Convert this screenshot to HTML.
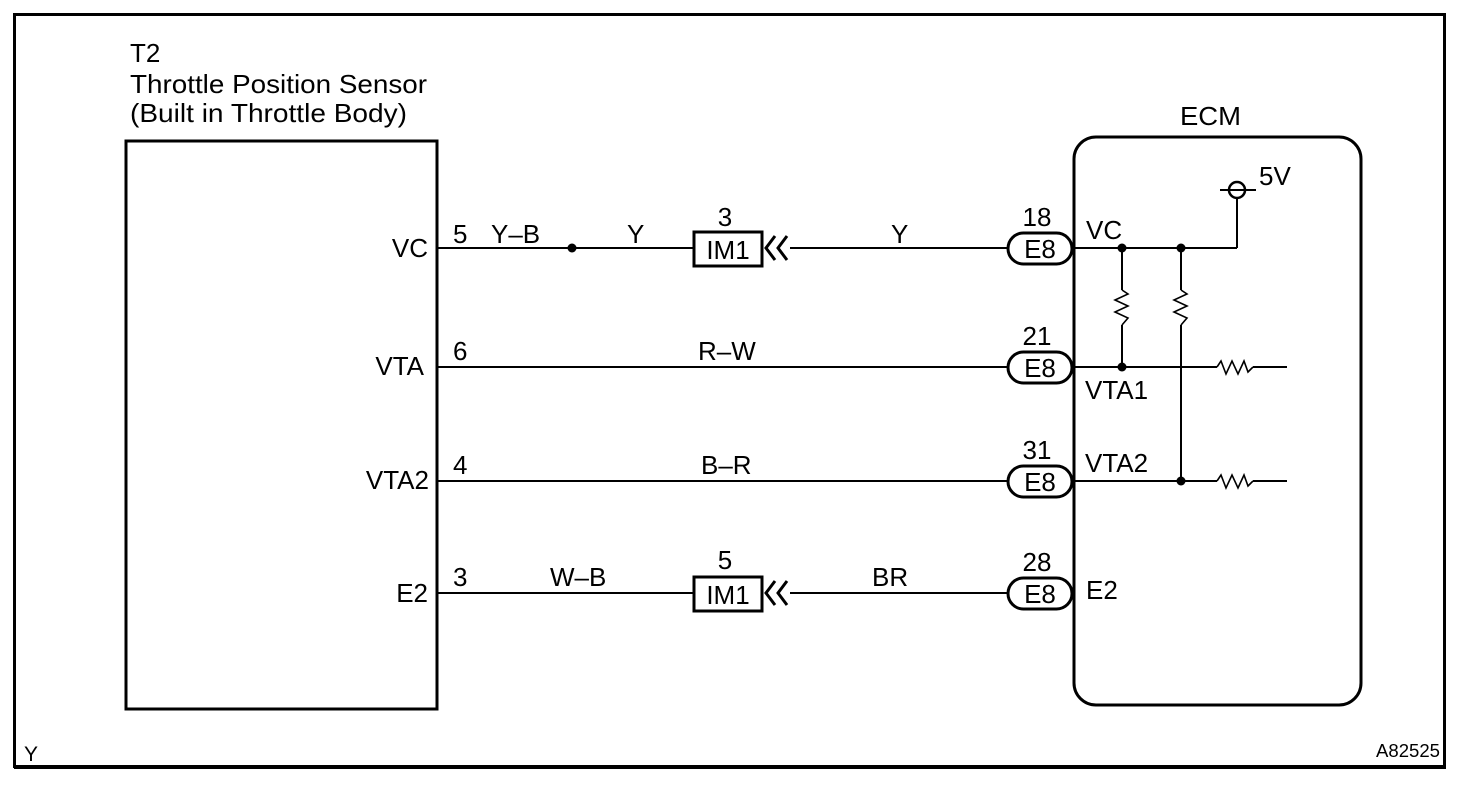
<!DOCTYPE html>
<html><head><meta charset="utf-8"><style>
html,body{margin:0;padding:0;background:#fff;}
svg{display:block;}
text{font-family:"Liberation Sans",sans-serif;fill:#000;}
</style></head><body>
<svg width="1472" height="788" viewBox="0 0 1472 788" xmlns="http://www.w3.org/2000/svg">
<rect width="1472" height="788" fill="#fff"/>
<rect x="14.5" y="14.5" width="1430" height="752" fill="none" stroke="#000" stroke-width="3"/>
<line x1="14" y1="767" x2="1446" y2="767" stroke="#000" stroke-width="4"/>
<rect x="126" y="141" width="311" height="568" fill="none" stroke="#000" stroke-width="3"/>
<g font-size="26">
<text x="130" y="62">T2</text>
<text x="130" y="93" textLength="297" lengthAdjust="spacingAndGlyphs">Throttle Position Sensor</text>
<text x="130" y="122" textLength="277" lengthAdjust="spacingAndGlyphs">(Built in Throttle Body)</text>
<text x="1180" y="125" textLength="61" lengthAdjust="spacingAndGlyphs">ECM</text>
</g>
<rect x="1074" y="137" width="287" height="568" rx="22" ry="22" fill="none" stroke="#000" stroke-width="3"/>
<g stroke="#000" stroke-width="2" fill="none">
<line x1="437" y1="248" x2="693" y2="248"/>
<line x1="790" y1="248" x2="1008" y2="248"/>
<line x1="437" y1="367" x2="1008" y2="367"/>
<line x1="437" y1="481" x2="1008" y2="481"/>
<line x1="437" y1="593" x2="693" y2="593"/>
<line x1="790" y1="593" x2="1008" y2="593"/>
<line x1="1074" y1="248" x2="1237" y2="248"/>
<line x1="1237" y1="248" x2="1237" y2="197"/>
<line x1="1074" y1="367" x2="1217" y2="367"/>
<line x1="1253" y1="367" x2="1287" y2="367"/>
<line x1="1074" y1="481" x2="1217" y2="481"/>
<line x1="1253" y1="481" x2="1287" y2="481"/>
<line x1="1122" y1="248" x2="1122" y2="290"/>
<line x1="1122" y1="325" x2="1122" y2="367"/>
<line x1="1181" y1="248" x2="1181" y2="290"/>
<line x1="1181" y1="325" x2="1181" y2="481"/>
</g>
<g stroke="#000" stroke-width="1.6" fill="none">
<polyline points="1122,290 1128,294 1115,300 1128,306 1115,312 1128,318 1122,325"/>
<polyline points="1181,290 1187,294 1174,300 1187,306 1174,312 1187,318 1181,325"/>
<polyline points="1217,367 1221,361 1226,374 1232,361 1238,374 1244,361 1248,372 1253,367"/>
<polyline points="1217,481 1221,475 1226,488 1232,475 1238,488 1244,475 1248,486 1253,481"/>
</g>
<circle cx="1237" cy="190" r="8" fill="#fff" stroke="#000" stroke-width="2.5"/>
<line x1="1220" y1="190" x2="1256" y2="190" stroke="#000" stroke-width="2"/>
<text x="1259" y="185" font-size="26">5V</text>
<g fill="#000">
<circle cx="572" cy="248" r="4.5"/>
<circle cx="1122" cy="248" r="4.5"/>
<circle cx="1181" cy="248" r="4.5"/>
<circle cx="1122" cy="367" r="4.5"/>
<circle cx="1181" cy="481" r="4.5"/>
</g>
<g stroke="#000" fill="#fff">
<rect x="694" y="232" width="68" height="34" stroke-width="3"/>
<rect x="694" y="577" width="68" height="34" stroke-width="3"/>
</g>
<g stroke="#000" stroke-width="3" fill="none">
<polyline points="775,236 766,248 775,260"/>
<polyline points="787,236 778,248 787,260"/>
<polyline points="775,581 766,593 775,605"/>
<polyline points="787,581 778,593 787,605"/>
</g>
<g font-size="26" text-anchor="middle">
<text x="728" y="259">IM1</text>
<text x="728" y="604">IM1</text>
<text x="725" y="226">3</text>
<text x="725" y="569">5</text>
</g>
<g stroke="#000" stroke-width="3" fill="#fff">
<rect x="1008" y="233" width="64" height="31" rx="15.5"/>
<rect x="1008" y="352" width="64" height="31" rx="15.5"/>
<rect x="1008" y="466" width="64" height="31" rx="15.5"/>
<rect x="1008" y="578" width="64" height="31" rx="15.5"/>
</g>
<g font-size="26" text-anchor="middle">
<text x="1040" y="258">E8</text>
<text x="1040" y="377">E8</text>
<text x="1040" y="491">E8</text>
<text x="1040" y="603">E8</text>
<text x="1037" y="226">18</text>
<text x="1037" y="345">21</text>
<text x="1037" y="459">31</text>
<text x="1037" y="571">28</text>
</g>
<g font-size="26" text-anchor="end">
<text x="428" y="257">VC</text>
<text x="424" y="375">VTA</text>
<text x="429" y="489">VTA2</text>
<text x="428" y="602">E2</text>
</g>
<g font-size="26">
<text x="453" y="243">5</text>
<text x="453" y="360">6</text>
<text x="453" y="474">4</text>
<text x="453" y="586">3</text>
<text x="491" y="243">Y–B</text>
<text x="627" y="243">Y</text>
<text x="891" y="243">Y</text>
<text x="698" y="360">R–W</text>
<text x="701" y="474">B–R</text>
<text x="550" y="586">W–B</text>
<text x="872" y="586">BR</text>
<text x="1086" y="239">VC</text>
<text x="1085" y="399">VTA1</text>
<text x="1085" y="472">VTA2</text>
<text x="1086" y="599">E2</text>
</g>
<text x="24" y="761" font-size="21">Y</text>
<text x="1440" y="757" font-size="18" text-anchor="end" textLength="64" lengthAdjust="spacingAndGlyphs">A82525</text>
</svg>
</body></html>
